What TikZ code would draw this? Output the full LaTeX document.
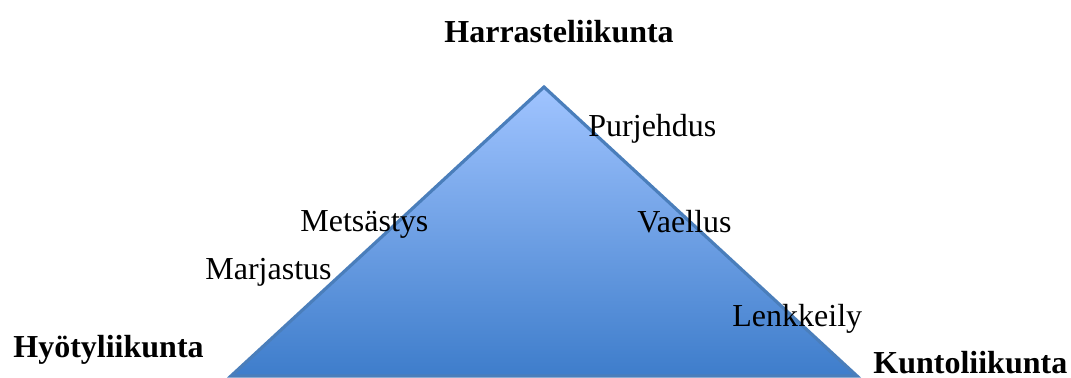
\documentclass[tikz,border=0pt]{standalone}
\usepackage{fontspec}
\setmainfont{Liberation Serif}
\definecolor{triTop}{RGB}{160,196,255}
\definecolor{triBot}{RGB}{62,125,203}
\definecolor{triLine}{RGB}{74,126,187}
\begin{document}
\begin{tikzpicture}[x=0.5pt,y=-0.5pt,
  lbl/.style={anchor=base west,inner sep=0pt,font=\fontsize{16}{19}\selectfont},
  head/.style={lbl,font=\fontsize{16}{19}\selectfont\bfseries}]
\useasboundingbox (0,0) rectangle (1071,377);
\coordinate (apex) at (544,87);
\coordinate (bl) at (231,376);
\coordinate (br) at (857,376);
\shade[top color=triTop,bottom color=triBot] (apex) -- (br) -- (bl) -- cycle;
\draw[triLine,line width=1.6pt,line join=miter] (apex) -- (br) -- (bl) -- cycle;
\node[head] (harr) at (444,42) {Harrasteliikunta};
\node[head] (hyoty) at (13,357) {Hyötyliikunta};
\node[head] (kunto) at (873,373) {Kuntoliikunta};
\node[lbl] (purj) at (588,136) {Purjehdus};
\node[lbl] (mets) at (300,231) {Metsästys};
\node[lbl] (marj) at (205,279) {Marjastus};
\node[lbl] (vael) at (637,232) {Vaellus};
\node[lbl] (lenk) at (732,326) {Lenkkeily};
\end{tikzpicture}
\end{document}
